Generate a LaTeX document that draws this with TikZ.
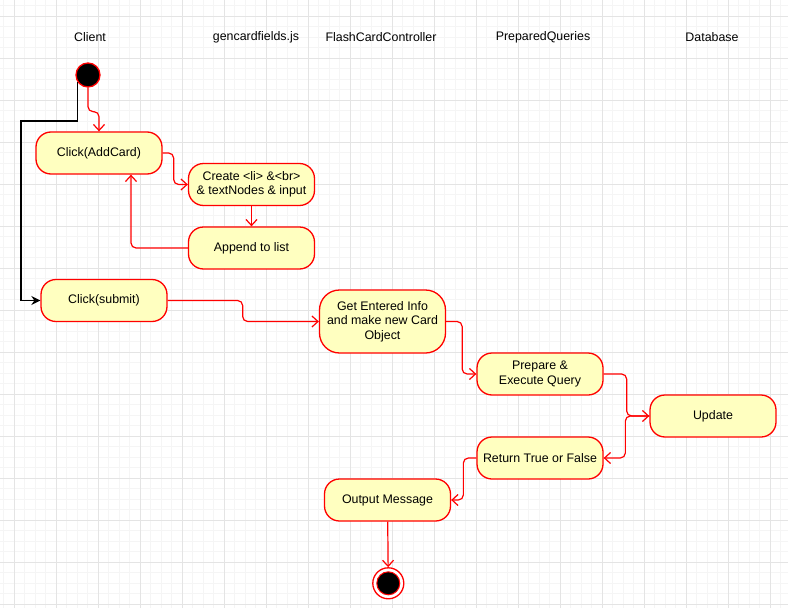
\documentclass[tikz,border=0pt]{standalone}
\usepackage{fontspec}
\setmainfont{Liberation Sans}
\definecolor{actfill}{RGB}{255,255,192}
\definecolor{actline}{RGB}{255,0,0}
\definecolor{gridminor}{RGB}{245,245,245}
\definecolor{gridmajor}{RGB}{228,228,228}
\usetikzlibrary{arrows.meta,shapes}
\tikzstyle{activity}=[draw=actline,fill=actfill,line width=1.3pt,rounded corners=15pt,minimum width=126pt,minimum height=42pt,inner sep=0pt,align=center,font=\fontsize{12.4}{14.5}\selectfont]
\tikzstyle{lane}=[font=\fontsize{12.4}{14.5}\selectfont]
\tikzstyle{redge}=[draw=actline,line width=1.2pt,rounded corners=5pt,-{Straight Barb[length=6pt,width=11pt]}]
\tikzstyle{bedge}=[draw=black,line width=1.4pt,-{Stealth[length=9pt,width=9pt,inset=3pt]}]

\begin{document}
\begin{tikzpicture}[x=1pt,y=-1pt]
                    \path [use as bounding box,fill=white] (0,0) rectangle (788,608);
                    % grid
                    \foreach \k in {0,...,74} \draw[gridminor,line width=0.8pt] (3.8+10.5*\k,0) -- (3.8+10.5*\k,608);
                    \foreach \k in {0,...,57} \draw[gridminor,line width=0.8pt] (0,5.5+10.5*\k) -- (788,5.5+10.5*\k);
                    \foreach \k in {0,...,18} \draw[gridmajor,line width=0.8pt] (14.3+42*\k,0) -- (14.3+42*\k,608);
                    \foreach \k in {0,...,14} \draw[gridmajor,line width=0.8pt] (0,16+42*\k) -- (788,16+42*\k);

                    \node[lane] (client) at (90,37) {Client};
                    \node[lane] (gencard) at (256,37) {gencardfields.js};
                    \node[lane] (controller) at (381,37) {FlashCardController};
                    \node[lane] (queries) at (543,37) {PreparedQueries};
                    \node[lane] (database) at (712,37) {Database};

                    \node[circle,draw=actline,fill=black,line width=1.3pt,minimum size=24pt,inner sep=0pt] (start) at (88,75) {};
                    \node[activity] (addcard) at (99,153) {Click(AddCard)};
                    \node[activity] (create) at (251.5,184.5) {Create <li> \&<br>\\\& textNodes \& input};
                    \node[activity] (append) at (251.5,248) {Append to list};
                    \node[activity] (submit) at (104,300.5) {Click(submit)};
                    \node[activity,minimum height=63pt,rounded corners=20pt] (getinfo) at (382.5,321.5) {Get Entered Info\\and make new Card\\Object};
                    \node[activity] (prepare) at (540,374) {Prepare \&\\Execute Query};
                    \node[activity] (update) at (713,416) {Update};
                    \node[activity] (ret) at (540,458) {Return True or False};
                    \node[activity] (output) at (387.5,500) {Output Message};
                    \node[circle,draw=actline,fill=white,line width=1.3pt,minimum size=31pt,inner sep=0pt] (final) at (388.3,583.3) {};
                    \node[circle,draw=actline,fill=black,line width=1pt,minimum size=23pt,inner sep=0pt] at (final) {};

                    \coordinate (bend) at (21,121);
                    \path[bedge] (start.214) |- (bend) |- (submit.west);
                    \path[redge] (start.south) -- ++(0,24) -| (addcard.north);
                    \path[redge] (addcard.east) -- ++(11,0) |- (create.west);
                    \path[redge] (create) -- (append);
                    \path[redge] (append.west) -| ([xshift=32pt]addcard.south);
                    \path[redge] (submit.east) -- ++(75,0) |- (getinfo.west);
                    \path[redge] (getinfo.east) -- ++(16,0) |- (prepare.west);
                    \path[redge] (prepare.east) -- ++(23,0) |- (update.west);
                    \path[redge] (update.west) -- ++(-24,0) |- (ret.east);
                    \path[redge] (ret.west) -- ++(-13,0) |- (output.east);
                    \path[redge] (output) -- (final);
                \end{tikzpicture}
\end{document}
